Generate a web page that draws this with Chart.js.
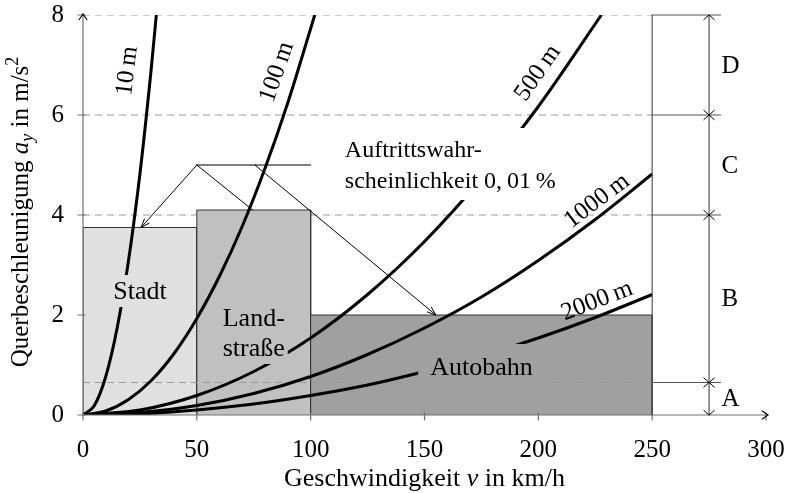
<!DOCTYPE html>
<html><head><meta charset="utf-8">
<script src="https://cdn.jsdelivr.net/npm/chart.js@4"></script>
<style>html,body{margin:0;padding:0;background:#fff}#wrap{width:792px;height:493px}</style>
</head><body><div id="wrap"><canvas id="c" width="792" height="493"></canvas></div>
<script>
// ---------- data ----------
const speedTicks = [0, 50, 100, 150, 200, 250, 300];
const accelTicks = [0, 2, 4, 6, 8];

const radiusLabels = ['10\u2009m', '100\u2009m', '500\u2009m', '1000\u2009m', '2000\u2009m'];
const v10   = [0, 5, 10, 15, 20, 25, 30, 32.2];
const a10   = [0, 0.19, 0.77, 1.74, 3.09, 4.82, 6.94, 8.0];
const v100  = [0, 10, 20, 30, 40, 50, 60, 70, 80, 90, 101.8];
const a100  = [0, 0.08, 0.31, 0.69, 1.23, 1.93, 2.78, 3.78, 4.94, 6.25, 8.0];
const v500  = [0, 25, 50, 75, 100, 125, 150, 175, 200, 227.7];
const a500  = [0, 0.10, 0.39, 0.87, 1.54, 2.41, 3.47, 4.73, 6.17, 8.0];
const v1000 = [0, 25, 50, 75, 100, 125, 150, 175, 200, 225, 250];
const a1000 = [0, 0.05, 0.19, 0.43, 0.77, 1.21, 1.74, 2.36, 3.09, 3.91, 4.82];
const v2000 = [0, 25, 50, 75, 100, 125, 150, 175, 200, 225, 250];
const a2000 = [0, 0.02, 0.10, 0.22, 0.39, 0.60, 0.87, 1.18, 1.54, 1.95, 2.41];

const zoneNames = ['Stadt', 'Land-\nstraße', 'Autobahn'];
const zoneFrom  = [0, 50, 100];
const zoneTo    = [50, 100, 250];
const zoneLevel = [3.75, 4.1, 2.0];

const classBounds = [0.65, 4, 6, 8];
const classLabels = ['A', 'B', 'C', 'D'];

const noteLines = ['Auftrittswahr-', 'scheinlichkeit 0,\u200901\u2009%'];

// ---------- styling ----------
const FONT = 'Liberation Serif';
const FS = 25;
const zoneFill = ['#e0e0e0', '#c0c0c0', '#a0a0a0'];
Chart.defaults.font.family = FONT;
Chart.defaults.font.size = FS;
Chart.defaults.color = '#000';

const pts = (xs, ys) => xs.map((x, i) => ({ x: x, y: ys[i] }));
const curves = [[v10, a10], [v100, a100], [v500, a500], [v1000, a1000], [v2000, a2000]];

const datasets = [];
classBounds.forEach(b => {
  datasets.push({
    data: [{ x: 0, y: b }, { x: zoneTo[zoneTo.length - 1], y: b }],
    showLine: true, borderColor: '#9a9a9a', borderWidth: 1, borderDash: [7, 5],
    pointRadius: 0, fill: false, order: b >= 1 ? 40 : 10
  });
});
zoneNames.forEach((n, i) => {
  datasets.push({
    data: [{ x: zoneFrom[i], y: 0 }, { x: zoneFrom[i], y: zoneLevel[i] },
           { x: zoneTo[i], y: zoneLevel[i] }, { x: zoneTo[i], y: 0 }],
    showLine: true, fill: 'origin', backgroundColor: zoneFill[i],
    borderColor: '#333', borderWidth: 1, pointRadius: 0, tension: 0,
    order: 30 - i
  });
});
curves.forEach(c => {
  datasets.push({
    data: pts(c[0], c[1]), showLine: true, borderColor: '#000', borderWidth: 3,
    pointRadius: 0, fill: false, cubicInterpolationMode: 'monotone', order: 1
  });
});

function arrowHead(ctx, tx, ty, ang, len, spread) {
  ctx.beginPath();
  ctx.moveTo(tx - len * Math.cos(ang - spread), ty - len * Math.sin(ang - spread));
  ctx.lineTo(tx, ty);
  ctx.lineTo(tx - len * Math.cos(ang + spread), ty - len * Math.sin(ang + spread));
  ctx.stroke();
}
function fontOf(p, base) { return (p.it ? 'italic ' : '') + Math.round(base * (p.s || 1)) + 'px "' + FONT + '"'; }
function drawRich(ctx, parts, cx, by, base) {
  let w = 0;
  parts.forEach(p => { ctx.font = fontOf(p, base); w += ctx.measureText(p.t).width; });
  let x = cx - w / 2;
  ctx.textAlign = 'left'; ctx.textBaseline = 'alphabetic'; ctx.fillStyle = '#000';
  parts.forEach(p => {
    ctx.font = fontOf(p, base);
    ctx.fillText(p.t, x, by + (p.dy || 0));
    x += ctx.measureText(p.t).width;
  });
}

const decor = {
  id: 'decor',
  afterDatasetsDraw(chart) {
    const ctx = chart.ctx, X = chart.scales.x, Y = chart.scales.y;
    const px = v => X.getPixelForValue(v), py = v => Y.getPixelForValue(v);
    ctx.save();
    ctx.lineCap = 'round';

    // axes
    ctx.strokeStyle = '#707070'; ctx.lineWidth = 1.2;
    ctx.beginPath(); ctx.moveTo(px(0), py(0)); ctx.lineTo(px(300) + 2, py(0)); ctx.stroke();
    ctx.beginPath(); ctx.moveTo(px(0), py(0)); ctx.lineTo(px(0), py(8) - 1); ctx.stroke();
    speedTicks.forEach(v => { ctx.beginPath(); ctx.moveTo(px(v), py(0) - 2); ctx.lineTo(px(v), py(0) + 5); ctx.stroke(); });
    accelTicks.forEach(v => { ctx.beginPath(); ctx.moveTo(px(0) - 5, py(v)); ctx.lineTo(px(0) + 2, py(v)); ctx.stroke(); });
    ctx.strokeStyle = '#000'; ctx.lineWidth = 1.1;
    arrowHead(ctx, px(300) + 2, py(0), 0, 7, 0.6);
    arrowHead(ctx, px(0), py(8) - 1, -Math.PI / 2, 7, 0.6);

    // class diagram on the right
    const last = zoneTo[zoneTo.length - 1];
    const dimX = px(275), endX = px(280);
    ctx.strokeStyle = '#555'; ctx.lineWidth = 1.2;
    ctx.beginPath(); ctx.moveTo(px(last), py(0)); ctx.lineTo(px(last), py(8)); ctx.stroke();
    classBounds.forEach(b => { ctx.beginPath(); ctx.moveTo(px(last), py(b)); ctx.lineTo(endX, py(b)); ctx.stroke(); });
    ctx.beginPath(); ctx.moveTo(dimX, py(0)); ctx.lineTo(dimX, py(8)); ctx.stroke();
    ctx.strokeStyle = '#000'; ctx.lineWidth = 1;
    const levels = [0].concat(classBounds);
    levels.forEach((b, i) => {
      if (i > 0) arrowHead(ctx, dimX, py(b), -Math.PI / 2, 7, 0.85);
      if (i < levels.length - 1) arrowHead(ctx, dimX, py(b), Math.PI / 2, 7, 0.85);
    });
    ctx.fillStyle = '#000'; ctx.font = FS + 'px "' + FONT + '"';
    ctx.textAlign = 'left'; ctx.textBaseline = 'middle';
    classLabels.forEach((l, i) => ctx.fillText(l, px(280.5), py((levels[i] + levels[i + 1]) / 2) + 1));

    // annotation pointers
    ctx.strokeStyle = '#000'; ctx.lineWidth = 1;
    const ax = px(50), ay = py(5);
    ctx.beginPath(); ctx.moveTo(ax, ay); ctx.lineTo(px(100), ay); ctx.stroke();
    const t1 = [px(25.5), py(zoneLevel[0])];
    ctx.beginPath(); ctx.moveTo(ax, ay); ctx.lineTo(t1[0], t1[1]); ctx.stroke();
    arrowHead(ctx, t1[0], t1[1], Math.atan2(t1[1] - ay, t1[0] - ax), 9, 0.35);
    ctx.beginPath(); ctx.moveTo(ax, ay); ctx.lineTo(px(74.5), py(zoneLevel[1])); ctx.stroke();
    const s3 = [px(75.5), ay], t3 = [px(155), py(zoneLevel[2])];
    ctx.beginPath(); ctx.moveTo(s3[0], s3[1]); ctx.lineTo(t3[0], t3[1]); ctx.stroke();
    arrowHead(ctx, t3[0], t3[1], Math.atan2(t3[1] - s3[1], t3[0] - s3[0]), 9, 0.35);

    // note text with white mask
    ctx.fillStyle = '#fff';
    ctx.fillRect(px(112), py(5.74), px(209) - px(112), py(4.3) - py(5.74));
    ctx.fillStyle = '#000'; ctx.font = '24px "' + FONT + '"';
    ctx.textAlign = 'left'; ctx.textBaseline = 'alphabetic';
    ctx.fillText(noteLines[0], px(115), py(5.16));
    ctx.fillText(noteLines[1], px(115), py(4.54));

    // zone labels with masks
    const zc = [[25, 2.48], [75, 1.64], [175, 0.96]];
    zoneNames.forEach((n, i) => {
      const lines = n.split('\n');
      ctx.font = '26px "' + FONT + '"';
      const w = Math.max(...lines.map(l => ctx.measureText(l).width));
      const lh = 30, h = lines.length * lh;
      const cx = px(zc[i][0]), cy = py(zc[i][1]);
      const padX = i === 2 ? 12 : 3, padY = i === 2 ? 8 : 1;
      ctx.fillStyle = zoneFill[i];
      ctx.fillRect(cx - w / 2 - padX, cy - h / 2 - padY, w + 2 * padX, h + 2 * padY);
      ctx.fillStyle = '#000'; ctx.textAlign = 'center'; ctx.textBaseline = 'middle';
      lines.forEach((l, k) => ctx.fillText(l, cx, cy - h / 2 + lh / 2 + k * lh + 1));
    });

    // curve labels
    const cl = [[19.5, 6.88, -83], [85.2, 6.86, -71], [199.8, 6.84, -55], [225.8, 4.28, -37], [225.8, 2.28, -21]];
    radiusLabels.forEach((l, i) => {
      ctx.save();
      ctx.translate(px(cl[i][0]), py(cl[i][1]));
      ctx.rotate(cl[i][2] * Math.PI / 180);
      ctx.fillStyle = '#000'; ctx.font = FS + 'px "' + FONT + '"';
      ctx.textAlign = 'center'; ctx.textBaseline = 'middle';
      ctx.fillText(l, 0, 0);
      ctx.restore();
    });

    // axis titles
    drawRich(ctx, [{ t: 'Geschwindigkeit ' }, { t: 'v', it: true }, { t: ' in km/h' }], (X.left + X.right) / 2, 486, 26);
    ctx.save();
    ctx.translate(28, (Y.top + Y.bottom) / 2 - 3);
    ctx.rotate(-Math.PI / 2);
    drawRich(ctx, [{ t: 'Querbeschleunigung ' }, { t: 'a', it: true }, { t: 'y', it: true, s: 0.7, dy: 5 },
                   { t: ' in m/s' }, { t: '2', s: 0.7, dy: -10 }], 0, 0, 25);
    ctx.restore();
    ctx.restore();
  }
};

new Chart(document.getElementById('c'), {
  type: 'scatter',
  data: { datasets: datasets },
  options: {
    responsive: false, animation: false, devicePixelRatio: 1,
    layout: { padding: { top: 15, right: 26, left: 0, bottom: 0 } },
    plugins: { legend: { display: false }, tooltip: { enabled: false } },
    scales: {
      x: {
        type: 'linear', min: 0, max: 300,
        afterBuildTicks: s => { s.ticks = speedTicks.map(v => ({ value: v })); },
        ticks: { padding: 12, maxRotation: 0, autoSkip: false, font: { size: FS, family: FONT }, color: '#000' },
        grid: { display: false }, border: { display: false },
        afterFit: s => { s.height = 78; s.paddingLeft = 0; s.paddingRight = 0; }
      },
      y: {
        type: 'linear', min: 0, max: 8,
        afterBuildTicks: s => { s.ticks = accelTicks.map(v => ({ value: v })); },
        ticks: { padding: 11, autoSkip: false, font: { size: FS, family: FONT }, color: '#000' },
        grid: { display: false }, border: { display: false },
        afterFit: s => { s.width = 83; s.paddingTop = 0; s.paddingBottom = 0; }
      }
    }
  },
  plugins: [decor]
});
</script></body></html>
